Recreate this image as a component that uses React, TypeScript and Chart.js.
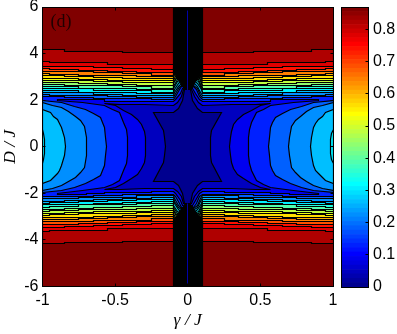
import React, { useEffect, useRef } from "react";
import { Chart, registerables } from "chart.js";

Chart.register(...registerables);

// Colormap index (0..63 of MATLAB jet) of each contour band, lowest band first
const bandColormapIndex = [0, 3, 6, 9, 13, 16, 19, 22, 25, 28, 32, 35, 38, 41, 44, 47, 50, 54, 57, 60, 63];

// Upper quadrant of every contour level (gamma, D).
// Levels run from 4 to 20; each row is D over five gamma columns.
const upperLevels: number[][] = [
  [2.14, 2.12, 2.09, 2.07, 2.03], // L4
  [2.24, 2.22, 2.18, 2.16, 2.11], // L5
  [2.33, 2.31, 2.25, 2.22, 2.18], // L6
  [2.42, 2.40, 2.33, 2.31, 2.27], // L7
  [2.50, 2.48, 2.42, 2.40, 2.35], // L8
  [2.59, 2.57, 2.50, 2.48, 2.44], // L9
  [2.68, 2.65, 2.61, 2.57, 2.52], // L10
  [2.76, 2.74, 2.70, 2.68, 2.63], // L11
  [2.85, 2.83, 2.78, 2.76, 2.74], // L12
  [2.95, 2.93, 2.87, 2.85, 2.83], // L13
  [3.04, 3.02, 2.98, 2.95, 2.91], // L14
  [3.13, 3.11, 3.06, 3.04, 3.00], // L15
  [3.23, 3.21, 3.17, 3.15, 3.08], // L16
  [3.34, 3.32, 3.28, 3.25, 3.19], // L17
  [3.45, 3.43, 3.40, 3.34, 3.30], // L18
  [3.64, 3.60, 3.60, 3.53, 3.53], // L19
  [4.16, 4.11, 4.11, 4.06, 4.06], // L20
];
const stairBreaksEven = [0.85, 0.65, 0.45, 0.25];
const stairBreaksOdd = [0.95, 0.75, 0.55, 0.35];

// Part of each low level below the stairs: from the D = 0 crossing to the right edge or tongue tip
const lowerLevels: Record<number, number[][]> = {
  1: [[0.155, 0], [0.157, 0.376], [0.166, 0.68], [0.234, 1.48], [0.1, 1.48]],
  2: [[0.29, 0], [0.294, 0.376], [0.3, 0.66], [0.315, 0.935], [0.345, 1.17], [0.384, 1.365], [0.44, 1.56], [0.5, 1.75], [0.57, 1.84], [0.466, 1.82], [0.3, 1.8], [0.1, 1.78]],
  3: [[0.418, 0], [0.418, 0.376], [0.425, 0.72], [0.439, 1.02], [0.473, 1.45], [0.52, 1.62], [0.57, 1.75], [0.728, 1.88], [0.9, 2.0], [0.9, 2.05], [0.7, 2.05], [0.7, 2.01], [0.57, 2.01], [0.57, 1.95], [0.25, 1.95], [0.25, 1.93], [0.1, 1.93]],
  4: [[0.556, 0], [0.563, 0.376], [0.57, 0.806], [0.585, 1.03], [0.604, 1.235], [0.65, 1.42], [0.707, 1.58], [0.78, 1.74], [0.866, 1.88], [1, 1.98]],
  5: [[0.694, 0], [0.7, 0.376], [0.714, 0.89], [0.74, 1.12], [0.776, 1.32], [0.82, 1.5], [0.866, 1.665], [0.93, 1.78], [1, 1.88]],
  6: [[0.845, 0], [0.85, 0.376], [0.866, 0.806], [0.88, 1.0], [0.9, 1.15], [0.925, 1.32], [0.948, 1.45], [1, 1.58]],
  7: [[0.983, 0], [0.983, 0.3], [0.99, 0.55], [1, 0.72]],
};

// Path of each level from gamma = 0.1 into the spike at gamma = 0
const spikeLevels: Record<number, number[][]> = {
  1: [[0.067, 1.66], [0.033, 2.0], [0.019, 2.44], [0, 2.44]],
  2: [[0.074, 1.9], [0.046, 2.14], [0.028, 2.44], [0, 2.48]],
  3: [[0.081, 2.02], [0.053, 2.3], [0.036, 2.52], [0, 2.55]],
  4: [[0.081, 2.14], [0.057, 2.44], [0.04, 2.6], [0, 2.6]],
  5: [[0.088, 2.22], [0.064, 2.52], [0.043, 2.65], [0, 2.65]],
  6: [[0.088, 2.35], [0.067, 2.6], [0.046, 2.7], [0, 2.7]],
  7: [[0.092, 2.44], [0.067, 2.7], [0.053, 2.78], [0, 2.78]],
  8: [[0.095, 2.52], [0.074, 2.78], [0.057, 2.83], [0, 2.83]],
  9: [[0.095, 2.6], [0.074, 2.87], [0, 2.9]],
  10: [[0.095, 2.7], [0.078, 2.91], [0, 3.0]],
  11: [[0.095, 2.75], [0.08, 2.98], [0, 3.1]],
  12: [[0.095, 2.85], [0.085, 3.02], [0, 3.2]],
  13: [[0.095, 2.93], [0.088, 3.1], [0, 3.3]],
  14: [[0.097, 3.02], [0.09, 3.15], [0, 3.4]],
  15: [[0.097, 3.1], [0, 3.5]],
  16: [[0.098, 3.2], [0, 3.6]],
  17: [[0.099, 3.3], [0, 3.7]],
  18: [[0.1, 3.4], [0, 3.8]],
  19: [[0, 4.0]],
  20: [[0, 4.3]],
};

// Black column of crowded contours around gamma = 0 (one half, upper side)
const blackColumn = [[0.1, 6], [0.1, 3.2], [0.08, 3.0], [0.055, 2.8], [0.03, 2.55], [0.015, 2.44], [0, 2.44]];
const centreLine = [[0, 6], [0, 2.44]];

const xTickStep = 0.5;
const yTickStep = 2;
const colorbarMax = 0.87;
const colorbarTickStep = 0.1;
const panelLabel = "(d)";
const panelLabelAt = [-0.945, 5.15];
const xTitle = "\u03b3 / J";
const yTitle = "D / J";

function jet(i: number): string {
  const r = i <= 23 ? 0 : i <= 39 ? (i - 23) * 0.0625 : i <= 55 ? 1 : 1 - (i - 55) * 0.0625;
  const g = i <= 7 ? 0 : i <= 23 ? (i - 7) * 0.0625 : i <= 39 ? 1 : i <= 55 ? 1 - (i - 39) * 0.0625 : 0;
  const b = i <= 7 ? 0.5 + (i + 1) * 0.0625 : i <= 23 ? 1 : i <= 39 ? 1 - (i - 23) * 0.0625 : 0;
  return `rgb(${Math.round(r * 255)},${Math.round(g * 255)},${Math.round(b * 255)})`;
}

function mirror(quadrant: number[][]): { x: number; y: number }[] {
  const q = quadrant.map(([x, y]) => ({ x, y }));
  return [
    ...q,
    ...[...q].reverse().map((p) => ({ x: -p.x, y: p.y })),
    ...q.map((p) => ({ x: -p.x, y: -p.y })),
    ...[...q].reverse().map((p) => ({ x: p.x, y: -p.y })),
    q[0],
  ];
}

function levelQuadrant(level: number): number[][] {
  const path: number[][] = [];
  if (lowerLevels[level]) path.push(...lowerLevels[level]);
  else path.push([1, 0]);
  if (level >= 4) {
    const cols = upperLevels[level - 4];
    const breaks = level % 2 === 0 ? stairBreaksEven : stairBreaksOdd;
    path.push([1, cols[0]]);
    breaks.forEach((b, i) => {
      path.push([b, cols[i]]);
      path.push([b, cols[i + 1]]);
    });
    path.push([0.1, cols[4]]);
  }
  path.push(...spikeLevels[level]);
  return path;
}

function inwardTicks(chart: any, sides: { l?: boolean; r?: boolean; t?: boolean; b?: boolean }, yId: string, xId?: string) {
  const { ctx, chartArea: a } = chart;
  const L = Math.floor(a.left) + 0.5;
  const R = Math.floor(a.right) + 0.5;
  const T = Math.floor(a.top) + 0.5;
  const B = Math.floor(a.bottom) + 0.5;
  ctx.save();
  ctx.strokeStyle = "#000";
  ctx.lineWidth = 1;
  ctx.beginPath();
  const len = 3;
  const ys = chart.scales[yId];
  ys.ticks.forEach((t: any) => {
    const y = Math.floor(ys.getPixelForValue(t.value)) + 0.5;
    if (sides.l) { ctx.moveTo(L, y); ctx.lineTo(L + len, y); }
    if (sides.r) { ctx.moveTo(R, y); ctx.lineTo(R - len, y); }
  });
  if (xId) {
    const xs = chart.scales[xId];
    xs.ticks.forEach((t: any) => {
      const x = Math.floor(xs.getPixelForValue(t.value)) + 0.5;
      if (sides.t) { ctx.moveTo(x, T); ctx.lineTo(x, T + len); }
      if (sides.b) { ctx.moveTo(x, B); ctx.lineTo(x, B - len); }
    });
  }
  ctx.stroke();
  ctx.strokeRect(L, T, R - L, B - T);
  ctx.restore();
}

const tickFont = { family: "'Liberation Sans', Arial, sans-serif", size: 16 };
const titleFont = { family: "'Liberation Serif', 'Times New Roman', serif", size: 17.5, style: "italic" as const };
const noMargins = (s: any) => {
  s.paddingTop = 0;
  s.paddingBottom = 0;
  s.paddingLeft = 0;
  s.paddingRight = 0;
};

export default function App() {
  const mainRef = useRef<HTMLCanvasElement>(null);
  const barRef = useRef<HTMLCanvasElement>(null);

  useEffect(() => {
    const datasets: any[] = [];
    const polygon = (points: any[], color: string, border: string | null) => ({
      type: "scatter",
      data: points,
      showLine: true,
      fill: "shape",
      backgroundColor: color,
      borderColor: border ?? color,
      borderWidth: border ? 1.2 : 0,
      pointRadius: 0,
      tension: 0,
    });
    // Painted first to last: dark red background, levels from high to low, then the column
    datasets.push(
      polygon(
        [{ x: -1, y: -6 }, { x: 1, y: -6 }, { x: 1, y: 6 }, { x: -1, y: 6 }, { x: -1, y: -6 }],
        jet(bandColormapIndex[20]),
        null
      )
    );
    for (let level = 20; level >= 1; level--) {
      datasets.push(polygon(mirror(levelQuadrant(level)), jet(bandColormapIndex[level - 1]), "#000"));
    }
    const half = blackColumn.map(([x, y]) => ({ x, y }));
    const col = [...half, ...[...half].reverse().map((p) => ({ x: -p.x, y: p.y }))];
    datasets.push(polygon([...col, col[0]], "#000", "#000"));
    const colLow = col.map((p) => ({ x: p.x, y: -p.y }));
    datasets.push(polygon([...colLow, colLow[0]], "#000", "#000"));
    [1, -1].forEach((s) =>
      datasets.push({
        type: "scatter",
        data: centreLine.map(([x, y]) => ({ x, y: s * y })),
        showLine: true,
        fill: false,
        borderColor: "#0000a8",
        borderWidth: 1,
        pointRadius: 0,
      })
    );
    const n = datasets.length;
    datasets.forEach((d, i) => (d.order = n - i));

    const main = new Chart(mainRef.current!, {
      type: "scatter",
      data: { datasets },
      options: {
        animation: false,
        responsive: false,
        layout: { padding: { left: 0, top: 7, right: 64, bottom: 0 } },
        plugins: { legend: { display: false }, tooltip: { enabled: false } },
        scales: {
          x: {
            type: "linear",
            min: -1,
            max: 1,
            grid: { display: false, drawTicks: false },
            border: { display: false },
            ticks: {
              stepSize: xTickStep,
              color: "#000",
              font: tickFont,
              maxRotation: 0,
              autoSkip: false,
              padding: 4,
              callback: (v: any) => String(Number(v)),
            },
            title: { display: true, text: xTitle, color: "#000", font: titleFont, padding: { top: 0, bottom: 3 } },
            afterFit: (s: any) => { noMargins(s); s.height = 47.5; },
          },
          y: {
            type: "linear",
            min: -6,
            max: 6,
            grid: { display: false, drawTicks: false },
            border: { display: false },
            ticks: { stepSize: yTickStep, color: "#000", font: tickFont, autoSkip: false, padding: 4 },
            title: { display: true, text: yTitle, color: "#000", font: titleFont, padding: { top: 0, bottom: 0 } },
            afterFit: (s: any) => { noMargins(s); s.width = 42.5; },
          },
        },
      } as any,
      plugins: [
        {
          id: "pixelSnap",
          afterDatasetsUpdate(chart: any) {
            chart.getSortedVisibleDatasetMetas().forEach((meta: any) => {
              meta.data.forEach((el: any) => {
                el.x = Math.floor(el.x) + 0.5;
                el.y = Math.floor(el.y) + 0.5;
              });
            });
          },
        },
        {
          id: "frameAndLabel",
          afterDraw(chart: any) {
            inwardTicks(chart, { l: true, r: true, t: true, b: true }, "y", "x");
            const { ctx, scales } = chart;
            ctx.save();
            ctx.fillStyle = "#200000";
            ctx.font = "18px 'Liberation Serif', serif";
            ctx.textBaseline = "alphabetic";
            ctx.fillText(panelLabel, scales.x.getPixelForValue(panelLabelAt[0]), scales.y.getPixelForValue(panelLabelAt[1]));
            ctx.restore();
          },
        },
      ],
    });

    const barDatasets = Array.from({ length: 64 }, (_, i) => ({
      data: [colorbarMax / 64],
      backgroundColor: jet(i),
      borderWidth: 0,
      barPercentage: 1,
      categoryPercentage: 1,
      stack: "c",
    }));
    const bar = new Chart(barRef.current!, {
      type: "bar",
      data: { labels: [""], datasets: barDatasets },
      options: {
        animation: false,
        responsive: false,
        layout: { padding: { left: 341, top: 7, right: 0, bottom: 47 } },
        plugins: { legend: { display: false }, tooltip: { enabled: false } },
        scales: {
          x: { display: false, stacked: true },
          y: {
            position: "right",
            stacked: true,
            min: 0,
            max: colorbarMax,
            grid: { display: false, drawTicks: false },
            border: { display: false },
            ticks: { stepSize: colorbarTickStep, includeBounds: false, color: "#000", font: tickFont, padding: 5, autoSkip: false },
            afterFit: (s: any) => { noMargins(s); s.width = 29; },
          },
        },
      } as any,
      plugins: [
        {
          id: "barFrame",
          afterDraw(chart: any) {
            inwardTicks(chart, { r: true }, "y");
          },
        },
      ],
    });
    return () => {
      main.destroy();
      bar.destroy();
    };
  }, []);

  const style: React.CSSProperties = { position: "absolute", left: 0, top: 0 };
  return (
    <div style={{ position: "absolute", left: 0, top: 0, width: 397, height: 334, background: "#fff" }}>
      <canvas ref={mainRef} width={397} height={334} style={style} />
      <canvas ref={barRef} width={397} height={334} style={style} />
    </div>
  );
}
